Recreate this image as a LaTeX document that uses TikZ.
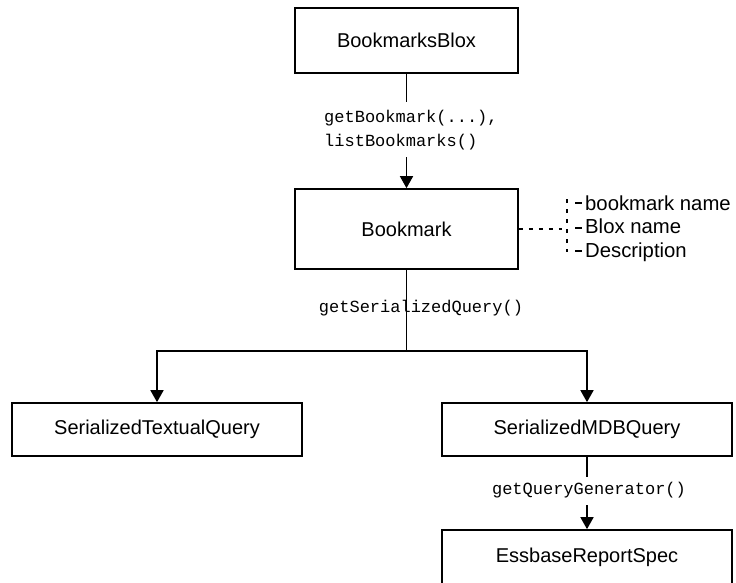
\documentclass[tikz,border=0pt]{standalone}
\usepackage{fontspec}
\setmainfont{Liberation Sans}
\newfontfamily\monofont{Liberation Mono}
\usetikzlibrary{arrows.meta}
\begin{document}
\begin{tikzpicture}[x=1pt,y=-1pt,
  box/.style={draw, line width=1.7pt, minimum width=223pt, inner sep=0pt,
    font=\fontsize{20}{23}\selectfont},
  wbox/.style={draw, line width=1.7pt, minimum width=290pt, minimum height=53pt, inner sep=0pt,
    font=\fontsize{20}{23}\selectfont},
  conn/.style={line width=1.7pt},
  arr/.style={line width=1.7pt, -{Triangle[length=12pt,width=13pt]}},
  dsh/.style={line width=1.3pt, dash pattern=on 4pt off 6pt},
  tick/.style={line width=1.3pt},
  mono/.style={font=\monofont\fontsize{17}{24}\selectfont, inner sep=0pt},
  side/.style={font=\fontsize{20.3}{23}\selectfont, inner sep=0pt, anchor=base west}]
\clip (0,0) rectangle (736,582);
% boxes
\node[box, minimum height=65pt] (blox) at (406.5,40.5) {BookmarksBlox\hspace{10pt}};
\node[box, minimum height=80pt] (bm) at (406.5,229) {Bookmark};
\node[wbox] (stq) at (157,429.5) {SerializedTextualQuery};
\node[wbox] (mdb) at (587,429.5) {SerializedMDBQuery};
\node[wbox, minimum height=54pt] (ess) at (587,557) {EssbaseReportSpec};
% first connector
\coordinate (a1) at (406.5,102);
\coordinate (a2) at (406.5,157);
\draw[conn] (blox.south) -- (a1);
\draw[arr] (a2) -- (bm.north);
\node[mono, anchor=west, align=left] (l1) at (324,130) {getBookmark(...),\\listBookmarks()};
% second connector
\coordinate (j) at (406.5,351);
\draw[conn] (bm.south) -- (j);
\draw[arr] (j) -| (stq.north);
\draw[arr] (j) -| (mdb.north);
\node[mono] (l2) at (421,308) {getSerializedQuery()};
% third connector
\coordinate (b1) at (587,477);
\coordinate (b2) at (587,505);
\draw[conn] (mdb.south) -- (b1);
\draw[arr] (b2) -- (ess.north);
\node[mono] (l3) at (589,490) {getQueryGenerator()};
% side notes
\node[side] (t1) at (585,210) {bookmark name};
\node[side] (t2) at (585,233) {Blox name};
\node[side] (t3) at (585,257) {Description};
\coordinate (v0) at (562,229);
\coordinate (vt) at (567,199);
\coordinate (vb) at (567,252);
\draw[dsh] (bm.east) -- (v0);
\draw[dsh] (vt) -- (vb);
\draw[tick] (575,203) -- ([xshift=-3pt]t1.west |- 0,203);
\draw[tick] (575,228) -- ([xshift=-3pt]t2.west |- 0,228);
\draw[tick] (575,251) -- ([xshift=-3pt]t3.west |- 0,251);
\end{tikzpicture}
\end{document}
